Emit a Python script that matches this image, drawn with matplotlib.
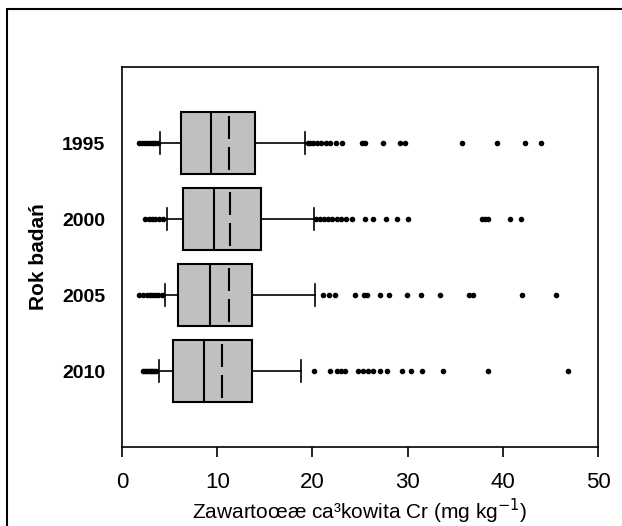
import numpy as np
import matplotlib
matplotlib.use("Agg")
import matplotlib.pyplot as plt
from matplotlib.patches import Rectangle

plt.rcParams['font.family'] = ['Liberation Sans', 'DejaVu Sans']

years = ['1995', '2000', '2005', '2010']
positions = [4, 3, 2, 1]
q1 = [6.2, 6.4, 5.9, 5.4]
median = [9.4, 9.7, 9.2, 8.65]
mean = [11.2, 11.3, 11.2, 10.5]
q3 = [14.0, 14.6, 13.7, 13.7]
whislo = [4.0, 4.7, 4.5, 3.9]
whishi = [19.2, 20.2, 20.3, 18.8]
fliers = [
    [1.8, 2.1, 2.4, 2.7, 3.0, 3.3, 3.5, 3.8,
     19.5, 19.8, 20.1, 20.5, 20.9, 21.4, 21.9, 22.5, 23.1, 25.2, 25.5, 27.4,
     29.2, 29.7, 35.7, 39.4, 42.3, 44.0],
    [2.4, 2.8, 3.2, 3.5, 3.9, 4.3,
     20.4, 20.8, 21.2, 21.6, 22.1, 22.6, 23.0, 23.5, 24.2, 25.5, 26.4, 27.7,
     28.9, 30.0, 37.8, 38.1, 38.4, 40.8, 41.9],
    [1.8, 2.2, 2.6, 2.9, 3.2, 3.5, 3.8, 4.2,
     21.1, 21.7, 22.4, 24.5, 25.4, 25.7, 27.1, 28.0, 29.9, 31.4, 33.4,
     36.4, 36.9, 42.0, 45.6],
    [2.2, 2.4, 2.6, 2.8, 3.0, 3.2, 3.4, 3.6,
     20.2, 21.8, 22.6, 23.0, 23.4, 24.8, 25.3, 25.8, 26.4, 27.1, 27.8, 29.4,
     30.4, 31.5, 33.7, 38.4, 46.8],
]

stats = []
for i, y in enumerate(years):
    stats.append(dict(label=y, q1=q1[i], med=median[i], q3=q3[i],
                      whislo=whislo[i], whishi=whishi[i], mean=mean[i],
                      fliers=np.array(fliers[i])))

fig = plt.figure(figsize=(6.22, 5.26), dpi=100)
ax = fig.add_axes([122 / 622, 1 - 447 / 526, 476 / 622, 380 / 526])

ax.bxp(stats, positions=positions, widths=0.82, orientation='horizontal',
       patch_artist=True, showmeans=False, capwidths=0.29,
       boxprops=dict(facecolor='#c0c0c0', edgecolor='black', linewidth=1.5),
       medianprops=dict(color='black', linewidth=1.5),
       whiskerprops=dict(color='black', linewidth=1.2),
       capprops=dict(color='black', linewidth=1.2),
       flierprops=dict(marker='o', markersize=3.0, markerfacecolor='black',
                       markeredgecolor='black'))

# mean shown as a broken line inside each box
for p, m in zip(positions, mean):
    ax.vlines(m, p - 0.36, p - 0.05, color='black', linewidth=1.5)
    ax.vlines(m, p + 0.05, p + 0.36, color='black', linewidth=1.5)

ax.set_xlim(0, 50)
ax.set_ylim(0, 5)
ax.set_xticks([0, 10, 20, 30, 40, 50])
ax.tick_params(axis='x', direction='out', length=7, width=1.2, pad=11,
               labelsize=16)
ax.tick_params(axis='y', length=0, pad=12, labelsize=14)
ax.set_yticks(positions)
ax.set_yticklabels(years, fontweight='bold')
for s in ax.spines.values():
    s.set_linewidth(1.2)

ax.set_xlabel('Zawartoœæ ca³kowita Cr (mg kg$^{-1}$)', fontsize=15, labelpad=3)
ax.set_ylabel('Rok badań', fontsize=15, fontweight='bold', labelpad=10)

fig.add_artist(Rectangle((7 / 622, -0.1), 1.2, 1.1 - 9 / 526,
                         transform=fig.transFigure, fill=False,
                         edgecolor='black', linewidth=1.5))

fig.savefig('out.png', dpi=100)
